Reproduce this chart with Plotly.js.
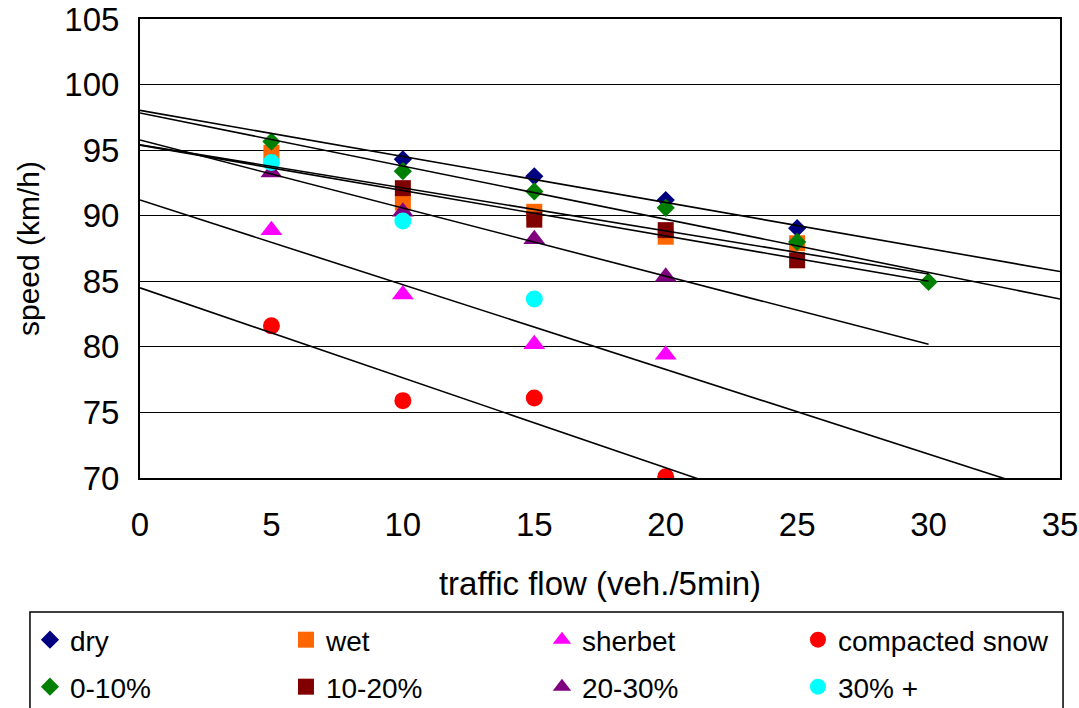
<!DOCTYPE html>
<html><head><meta charset="utf-8">
<script src="https://cdn.plot.ly/plotly-3.0.1.min.js"></script>
<style>html,body{margin:0;padding:0;background:#fff;} #chart{width:1079px;height:708px;}</style>
</head><body><div id="chart"></div>
<script>
// ---- data ----
const seriesNames = ['dry', 'wet', 'sherbet', 'compacted snow', '0-10%', '10-20%', '20-30%', '30% +'];
const dryX = [10, 15, 20, 25];            const dryY = [94.3, 93.0, 91.2, 89.05];
const wetX = [5, 10, 15, 20, 25];         const wetY = [94.8, 91.0, 90.3, 88.4, 87.9];
const sherbetX = [5, 10, 15, 20];         const sherbetY = [88.9, 84.0, 80.2, 79.4];
const snowX = [5, 10, 15, 20];            const snowY = [81.6, 75.9, 76.1, 70.1];
const p0to10X = [5, 10, 15, 20, 25, 30];  const p0to10Y = [95.65, 93.4, 91.85, 90.6, 88.0, 84.95];
const p10to20X = [10, 15, 20, 25];        const p10to20Y = [92.1, 89.7, 88.9, 86.6];
const p20to30X = [5, 10, 15, 20];         const p20to30Y = [93.3, 90.3, 88.2, 85.35];
const p30plusX = [5, 10, 15];             const p30plusY = [94.05, 89.6, 83.65];
// linear trendline extent (x up to which each fitted line is drawn; null = no trendline)
const trendTo = [35, 30, 35, 35, 35, 30, 30, null];
const xTicks = [0, 5, 10, 15, 20, 25, 30, 35];
const yTicks = [70, 75, 80, 85, 90, 95, 100, 105];

// ---- styles ----
const colors = ['#000080', '#FF6600', '#FF00FF', '#FF0000', '#008000', '#800000', '#800080', '#00FFFF'];
const symbols = ['diamond', 'square', 'triangle-up', 'circle', 'diamond', 'square', 'triangle-up', 'circle'];
const sizes = [14, 16, 19, 17, 14, 16, 19, 17];
const FONT = 'Liberation Sans, Arial, sans-serif';

const xsAll = [dryX, wetX, sherbetX, snowX, p0to10X, p10to20X, p20to30X, p30plusX];
const ysAll = [dryY, wetY, sherbetY, snowY, p0to10Y, p10to20Y, p20to30Y, p30plusY];

function fit(x, y) {
  const n = x.length;
  const mx = x.reduce((a, b) => a + b, 0) / n;
  const my = y.reduce((a, b) => a + b, 0) / n;
  let sxy = 0, sxx = 0;
  for (let i = 0; i < n; i++) { sxy += (x[i] - mx) * (y[i] - my); sxx += (x[i] - mx) ** 2; }
  const b = sxy / sxx;
  return [my - b * mx, b];
}

const traces = [];
seriesNames.forEach((name, i) => {
  traces.push({
    type: 'scatter', mode: 'markers', name: name,
    x: xsAll[i], y: ysAll[i],
    legend: i < 4 ? 'legend' : 'legend2',
    marker: { symbol: symbols[i], color: colors[i], size: sizes[i], line: { width: 0 } },
    hoverinfo: 'x+y+name'
  });
});
seriesNames.forEach((name, i) => {
  if (trendTo[i] === null) return;
  const [a, b] = fit(xsAll[i], ysAll[i]);
  const lx = [0, trendTo[i]];
  traces.push({
    type: 'scatter', mode: 'lines', showlegend: false, hoverinfo: 'skip',
    x: lx, y: lx.map(v => a + b * v),
    line: { color: '#000000', width: 1.6 }
  });
});

const legendCommon = {
  orientation: 'h', xanchor: 'left', yanchor: 'middle', x: -0.1196,
  bgcolor: 'rgba(0,0,0,0)', borderwidth: 0,
  font: { family: FONT, size: 28, color: '#000' },
  entrywidthmode: 'pixels', entrywidth: 211, itemsizing: 'trace'
};

const layout = {
  width: 1079, height: 708,
  margin: { l: 140, r: 19, t: 19, b: 230, autoexpand: false },
  paper_bgcolor: '#ffffff', plot_bgcolor: '#ffffff',
  font: { family: FONT, color: '#000' },
  showlegend: true,
  xaxis: {
    range: [0, 35], tickvals: xTicks, ticktext: xTicks.map(String),
    showgrid: false, zeroline: false,
    showline: true, linecolor: '#000', linewidth: 2, mirror: true,
    ticks: '', ticklabelstandoff: 16,
    tickfont: { family: FONT, size: 33, color: '#000' },
    title: { text: 'traffic flow (veh./5min)', font: { family: FONT, size: 33, color: '#000' }, standoff: 30 },
    automargin: false, fixedrange: true
  },
  yaxis: {
    range: [70, 105], tickvals: yTicks, ticktext: yTicks.map(String),
    showgrid: true, gridcolor: '#000', gridwidth: 1, zeroline: false,
    showline: true, linecolor: '#000', linewidth: 2, mirror: true,
    ticks: '', ticklabelstandoff: 12,
    tickfont: { family: FONT, size: 33, color: '#000' },
    title: { text: 'speed (km/h)', font: { family: FONT, size: 30, color: '#000' }, standoff: 16 },
    automargin: false, fixedrange: true
  },
  legend: Object.assign({}, legendCommon, { y: -0.3529 }),
  legend2: Object.assign({}, legendCommon, { y: -0.4553 }),
  shapes: [{
    type: 'rect', xref: 'paper', yref: 'paper',
    x0: -0.1196, x1: 1.0033, y0: -0.52, y1: -0.2919,
    line: { color: '#000', width: 1.5 }, fillcolor: 'rgba(0,0,0,0)', layer: 'below'
  }]
};

Plotly.newPlot('chart', traces, layout, { staticPlot: true, displayModeBar: false });
</script>
</body></html>
